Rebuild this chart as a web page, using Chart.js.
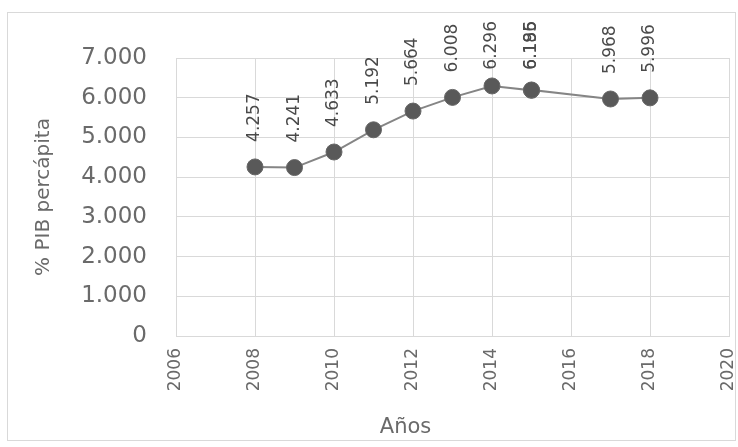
<!DOCTYPE html>
<html>
<head>
<meta charset="utf-8">
<script src="https://cdn.jsdelivr.net/npm/chart.js@4"></script>
<style>
  html,body{margin:0;padding:0;background:#fff;}
  #wrap{position:relative;width:738px;height:447px;}
  #frame{position:absolute;left:7px;top:12px;width:727px;height:427px;border:1px solid #d9d9d9;pointer-events:none;}
</style>
</head>
<body>
<div id="wrap">
  <canvas id="chart" width="738" height="447"></canvas>
  <div id="frame"></div>
</div>
<script>
// datos
const years=[2008,2009,2010,2011,2012,2013,2014,2015,2015,2017,2018];
const values=[4257,4241,4633,5192,5664,6008,6296,6186,6195,5968,5996];
const xTicks=[2006,2008,2010,2012,2014,2016,2018,2020];
const yTicks=[0,1000,2000,3000,4000,5000,6000,7000];
const xTitle="Años";
const yTitle="% PIB percápita";

const FONT="'DejaVu Sans',sans-serif";
const TXT="#6a6a6a";

function fmt(v){ return String(v).replace(/\B(?=(\d{3})+(?!\d))/g,"."); }

// etiquetas verticales sobre cada punto + titulo eje x
const labelPlugin={
  id:'labels',
  afterDatasetsDraw(chart){
    const ctx=chart.ctx;
    const meta=chart.getDatasetMeta(0);
    ctx.save();
    ctx.font="17px "+FONT;
    ctx.fillStyle="#4a4a4a";
    ctx.textAlign="left";
    ctx.textBaseline="middle";
    meta.data.forEach((p,i)=>{
      const txt=fmt(values[i]);
      const w=ctx.measureText(txt).width;
      let start=p.y-25;
      if(start-w<21) start=21+w; // que no se salga por arriba
      ctx.save();
      ctx.translate(p.x,start);
      ctx.rotate(-Math.PI/2);
      ctx.fillText(txt,0,0);
      ctx.restore();
    });
    // titulo eje x (desplazado a la izquierda como en el original)
    const a=chart.chartArea;
    ctx.font="21px "+FONT;
    ctx.fillStyle=TXT;
    ctx.textAlign="center";
    ctx.fillText(xTitle,a.left+(a.right-a.left)*0.415,428);
    ctx.restore();
  }
};

const ctx=document.getElementById("chart").getContext("2d");
new Chart(ctx,{
  type:'scatter',
  data:{datasets:[{
    data:years.map((y,i)=>({x:y,y:values[i]})),
    showLine:true,
    borderColor:'#858585',
    borderWidth:2,
    pointRadius:8,
    pointBackgroundColor:'#595959',
    pointBorderColor:'#666',
    pointBorderWidth:1
  }]},
  options:{
    responsive:false,
    animation:false,
    layout:{padding:{left:28,top:58,right:8,bottom:0}},
    plugins:{legend:{display:false},tooltip:{enabled:false}},
    scales:{
      x:{
        type:'linear',min:2006,max:2020,
        afterBuildTicks(s){ s.ticks=xTicks.map(v=>({value:v})); },
        afterFit(s){ s.height=111; s.paddingLeft=0; s.paddingRight=0; },
        grid:{color:'#d9d9d9',drawTicks:false},
        border:{color:'#d9d9d9'},
        ticks:{maxRotation:90,minRotation:90,padding:12,color:TXT,font:{family:FONT,size:17},callback:v=>String(v)}
      },
      y:{
        min:0,max:7000,
        afterBuildTicks(s){ s.ticks=yTicks.map(v=>({value:v})); },
        afterFit(s){ s.width=148; },
        grid:{color:'#d9d9d9',drawTicks:false},
        border:{color:'#d9d9d9'},
        ticks:{padding:29,color:TXT,font:{family:FONT,size:23},callback:v=>fmt(v)},
        title:{display:true,text:yTitle,color:TXT,font:{family:FONT,size:20},padding:{bottom:2}}
      }
    }
  },
  plugins:[labelPlugin]
});
</script>
</body>
</html>
